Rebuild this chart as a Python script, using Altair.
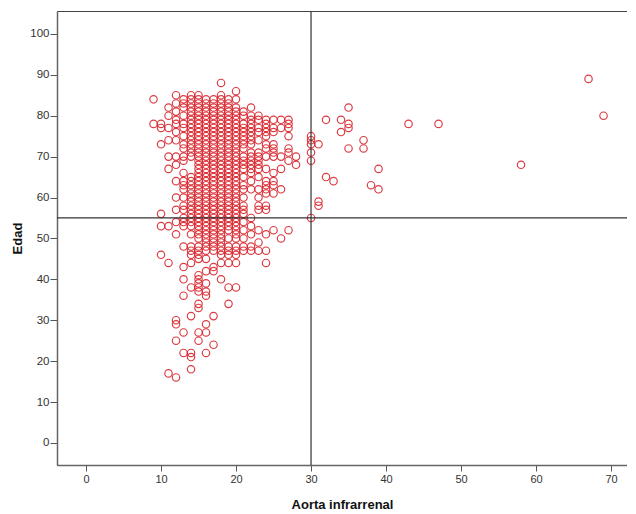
import altair as alt
import pandas as pd

# Ages (Edad) read per column of Aorta infrarrenal value (mm)
ages_09 = [84, 78]
ages_10 = [78, 77, 73, 56, 53, 46]
ages_11 = [82, 80, 77, 74, 70, 67, 53, 44, 17]
ages_12 = [85, 83, 81, 79, 78, 76, 74, 70, 68, 64, 60, 57, 54, 51, 30, 29, 25, 16]
ages_13 = [84, 83, 82, 80, 78, 77, 75, 73, 72, 70, 69, 66, 64, 63, 62, 60, 58, 57,
           55, 54, 53, 48, 43, 40, 36, 27, 22]
ages_14 = [85, 84, 83, 82, 81, 80, 79, 78, 77, 76, 75, 74, 73, 72, 71, 70, 65, 64,
           63, 62, 61, 60, 59, 58, 57, 56, 55, 54, 53, 51, 48, 47, 46, 44, 38, 31,
           22, 21, 18]
ages_15 = [85, 84, 83, 82, 81, 80, 79, 78, 77, 76, 75, 74, 73, 72, 71, 70, 69, 68,
           67, 66, 65, 64, 63, 62, 61, 60, 59, 58, 57, 56, 55, 54, 53, 52, 51, 50,
           48, 47, 46, 45, 41, 40, 39, 38, 37, 34, 33, 27, 25]
ages_16 = [84, 83, 82, 81, 80, 79, 78, 77, 76, 75, 74, 73, 72, 71, 70, 69, 68, 67,
           66, 65, 64, 63, 62, 61, 60, 59, 58, 57, 56, 55, 54, 53, 52, 51, 50, 49,
           48, 47, 45, 42, 39, 37, 36, 29, 27, 22]
ages_17 = [84, 83, 82, 81, 80, 79, 78, 77, 76, 75, 74, 73, 72, 71, 70, 69, 68, 67,
           66, 65, 64, 63, 62, 61, 60, 59, 58, 57, 56, 55, 54, 53, 52, 51, 50, 49,
           48, 47, 43, 42, 31, 24]
ages_18 = [88, 85, 84, 83, 82, 81, 80, 79, 78, 77, 76, 75, 74, 73, 72, 71, 70, 69,
           68, 67, 66, 65, 64, 63, 62, 61, 60, 59, 58, 57, 56, 55, 54, 53, 52, 51,
           50, 49, 48, 47, 46, 44, 40]
ages_19 = [84, 83, 82, 81, 80, 79, 78, 77, 76, 75, 74, 73, 72, 71, 70, 69, 68, 67,
           66, 65, 64, 63, 62, 61, 60, 59, 58, 57, 56, 55, 54, 53, 52, 50, 48, 47,
           46, 44, 38, 34]
ages_20 = [86, 84, 82, 81, 80, 79, 78, 77, 76, 75, 74, 73, 72, 71, 70, 69, 68, 67,
           66, 65, 64, 63, 62, 61, 60, 59, 58, 57, 56, 55, 54, 53, 52, 51, 50, 48,
           47, 46, 44, 38]
ages_21 = [81, 80, 78, 77, 76, 75, 74, 73, 72, 70, 69, 68, 67, 65, 63, 62, 60, 58,
           57, 56, 54, 52, 50, 48, 47]
ages_22 = [82, 80, 79, 78, 77, 76, 75, 74, 73, 71, 70, 69, 68, 67, 66, 64, 62, 55,
           53, 51, 48, 47]
ages_23 = [80, 79, 77, 76, 74, 71, 70, 69, 68, 67, 65, 62, 60, 58, 57, 52, 49, 47]
ages_24 = [79, 78, 77, 76, 75, 73, 72, 70, 67, 64, 63, 62, 61, 58, 57, 51, 47, 44]
ages_25 = [79, 77, 76, 73, 72, 71, 70, 66, 64, 63, 61, 52]
ages_26 = [79, 77, 70, 67, 62, 50]
ages_27 = [79, 78, 77, 75, 72, 71, 69, 52]
ages_28 = [70, 68]
ages_30 = [75, 74, 73, 71, 69, 55]
ages_31 = [73, 59, 58]
ages_32 = [79, 65]
ages_33 = [64]
ages_34 = [79, 76]
ages_35 = [82, 78, 77, 72]
ages_37 = [74, 72]
ages_38 = [63]
ages_39 = [67, 62]
ages_43 = [78]
ages_47 = [78]
ages_58 = [68]
ages_67 = [89]
ages_69 = [80]

columns = [
    (9, ages_09), (10, ages_10), (11, ages_11), (12, ages_12), (13, ages_13),
    (14, ages_14), (15, ages_15), (16, ages_16), (17, ages_17), (18, ages_18),
    (19, ages_19), (20, ages_20), (21, ages_21), (22, ages_22), (23, ages_23),
    (24, ages_24), (25, ages_25), (26, ages_26), (27, ages_27), (28, ages_28),
    (30, ages_30), (31, ages_31), (32, ages_32), (33, ages_33), (34, ages_34),
    (35, ages_35), (37, ages_37), (38, ages_38), (39, ages_39), (43, ages_43),
    (47, ages_47), (58, ages_58), (67, ages_67), (69, ages_69),
]

x_ticks = [0, 10, 20, 30, 40, 50, 60, 70]
y_ticks = [0, 10, 20, 30, 40, 50, 60, 70, 80, 90, 100]
ref_x = 30
ref_y = 55

rows = [{"aorta": xv, "edad": a} for xv, ages in columns for a in ages]
df = pd.DataFrame(rows)

font = "Liberation Sans"

x_scale = alt.Scale(domain=[-3.87, 72.13], nice=False, zero=False)
y_scale = alt.Scale(domain=[-5.4, 105.6], nice=False, zero=False)

x_axis = alt.Axis(values=x_ticks, grid=False, tickSize=6, tickColor="#555",
                  domainColor="#666", domainWidth=1.5, labelColor="#333",
                  labelFontSize=11, labelFont=font, labelPadding=2,
                  title="Aorta infrarrenal", titleFont=font, titleFontSize=13,
                  titleFontWeight="bold", titleColor="#111", titlePadding=14)
y_axis = alt.Axis(values=y_ticks, grid=False, tickSize=7, tickColor="#555",
                  domainColor="#666", domainWidth=1.5, labelColor="#333",
                  labelFontSize=11.5, labelFont=font, labelPadding=1,
                  title="Edad", titleFont=font, titleFontSize=13,
                  titleFontWeight="bold", titleColor="#111", titlePadding=5)

points = alt.Chart(df).mark_point(
    shape="circle", filled=False, size=55, strokeWidth=1.15,
    color="#d8262e", opacity=0.9
).encode(
    x=alt.X("aorta:Q", scale=x_scale, axis=x_axis),
    y=alt.Y("edad:Q", scale=y_scale, axis=y_axis),
)

vline = alt.Chart().mark_rule(color="#333", strokeWidth=1.2).encode(
    x=alt.datum(ref_x, scale=x_scale)
)
hline = alt.Chart().mark_rule(color="#333", strokeWidth=1.2).encode(
    y=alt.datum(ref_y, scale=y_scale)
)

chart = alt.layer(points, vline, hline).properties(
    width=570, height=454,
    autosize=alt.AutoSizeParams(type="none"),
    padding={"left": 49, "top": 3, "right": 0, "bottom": 45},
    background="white",
).configure_view(stroke="#444", strokeWidth=1)

chart.save("out.html", embed_options={"renderer": "svg", "actions": False})
